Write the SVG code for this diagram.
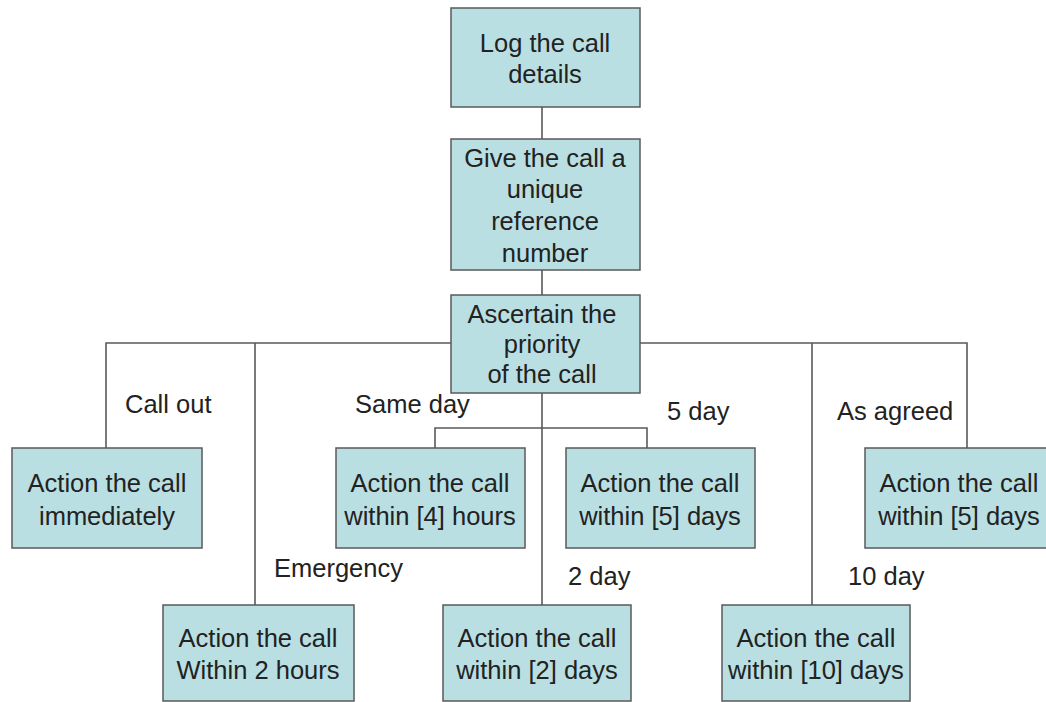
<svg xmlns="http://www.w3.org/2000/svg" width="1046" height="702" viewBox="0 0 1046 702">
<style>
.box{fill:#b9dfe3;stroke:#5a5a5a;stroke-width:1.5}
.t{font-family:"Liberation Sans",Arial,sans-serif;font-size:25.5px;fill:#222;text-anchor:middle}
.l{font-family:"Liberation Sans",Arial,sans-serif;font-size:25.5px;fill:#222}
.c{stroke:#5a5a5a;stroke-width:1.6;fill:none}
</style>
<rect width="1046" height="702" fill="#fff"/>
<g id="connectors">
<path class="c" d="M542 107V139M542 270V295M106 448V343H451M640 343H967V448M255 343V605M812 343V605M542 393V605M435 448V428H647V448"/>
</g>
<g id="n1"><rect class="box" x="451" y="8" width="189" height="99"/><text class="t" x="545" y="52">Log the call</text><text class="t" x="545" y="83">details</text></g>
<g id="n2"><rect class="box" x="451" y="139" width="189" height="131"/><text class="t" x="545" y="167">Give the call a</text><text class="t" x="545" y="198">unique</text><text class="t" x="545" y="230">reference</text><text class="t" x="545" y="262">number</text></g>
<g id="n3"><rect class="box" x="451" y="295" width="189" height="98"/><text class="t" x="542" y="323">Ascertain the</text><text class="t" x="542" y="353">priority</text><text class="t" x="542" y="383">of the call</text></g>
<g id="n4"><rect class="box" x="12" y="448" width="190" height="100"/><text class="t" x="107" y="492">Action the call</text><text class="t" x="107" y="525">immediately</text></g>
<g id="n5"><rect class="box" x="336" y="448" width="189" height="100"/><text class="t" x="430" y="492">Action the call</text><text class="t" x="430" y="525">within [4] hours</text></g>
<g id="n6"><rect class="box" x="566" y="448" width="189" height="100"/><text class="t" x="660" y="492">Action the call</text><text class="t" x="660" y="525">within [5] days</text></g>
<g id="n7"><rect class="box" x="865" y="448" width="190" height="100"/><text class="t" x="959" y="492">Action the call</text><text class="t" x="959" y="525">within [5] days</text></g>
<g id="n8"><rect class="box" x="163" y="605" width="191" height="96"/><text class="t" x="258" y="647">Action the call</text><text class="t" x="258" y="679">Within 2 hours</text></g>
<g id="n9"><rect class="box" x="443" y="605" width="188" height="96"/><text class="t" x="537" y="647">Action the call</text><text class="t" x="537" y="679">within [2] days</text></g>
<g id="n10"><rect class="box" x="722" y="605" width="188" height="96"/><text class="t" x="816" y="647">Action the call</text><text class="t" x="816" y="679">within [10] days</text></g>
<g id="labels">
<text class="l" x="125" y="413">Call out</text>
<text class="l" x="355" y="413">Same day</text>
<text class="l" x="667" y="420">5 day</text>
<text class="l" x="837" y="420">As agreed</text>
<text class="l" x="274" y="577">Emergency</text>
<text class="l" x="568" y="585">2 day</text>
<text class="l" x="848" y="585">10 day</text>
</g>
</svg>
